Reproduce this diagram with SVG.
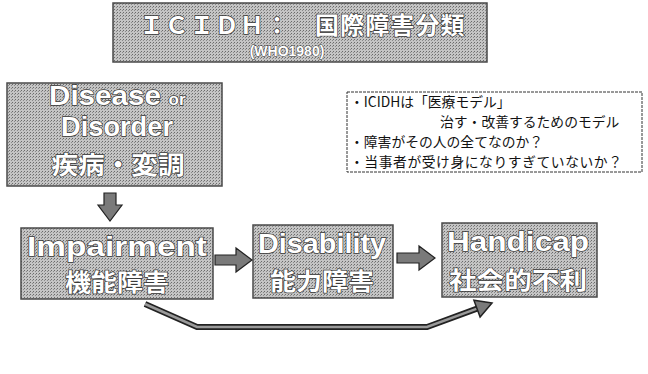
<svg xmlns="http://www.w3.org/2000/svg" width="648" height="374" viewBox="0 0 648 374">
<style>
.box{stroke:#4a4a4a;stroke-width:1.5;fill:url(#ht)}
.lbl{font-family:"Liberation Sans","Noto Sans CJK JP",sans-serif;font-weight:bold;fill:#fff;stroke:#3a3a3a;stroke-width:1.4;paint-order:stroke;text-anchor:middle}
.jp{font-family:"Noto Sans CJK JP",sans-serif;font-weight:bold;fill:#fff;stroke:#3a3a3a;stroke-width:1.4;paint-order:stroke;text-anchor:middle}
.note{font-family:"Noto Sans CJK JP",sans-serif;font-size:13.8px;fill:#111}
.arr{fill:#7a7a7a;stroke:#222;stroke-width:1.2}
</style>
<defs>
<pattern id="ht" width="3" height="3" patternUnits="userSpaceOnUse">
<rect width="3" height="3" fill="#c4c4c4"/>
<rect width="1" height="1" fill="#6a6a6a"/>
<rect x="2" y="1" width="1" height="1" fill="#8a8a8a"/>
</pattern>
</defs>
<rect width="648" height="374" fill="#fff"/>

<g id="title">
<rect class="box" x="113" y="3" width="374" height="59"/>
<text class="jp" x="302" y="34" font-size="24" textLength="325" lengthAdjust="spacing">ＩＣＩＤＨ：　国際障害分類</text>
<text class="lbl" x="287" y="56" font-size="14" style="stroke-width:0.9">(WHO1980)</text>
</g>

<g id="disease">
<rect class="box" x="7" y="83" width="215" height="103"/>
<text class="lbl" x="105" y="105" font-size="27" textLength="112" lengthAdjust="spacingAndGlyphs">Disease</text>
<text class="lbl" x="177" y="105" font-size="17">or</text>
<text class="lbl" x="117" y="136" font-size="27" textLength="112" lengthAdjust="spacingAndGlyphs">Disorder</text>
<text class="jp" x="118" y="174" font-size="25" textLength="133" lengthAdjust="spacingAndGlyphs">疾病・変調</text>
</g>

<g id="impairment">
<rect class="box" x="21" y="228" width="192" height="71"/>
<text class="lbl" x="117" y="256" font-size="28" textLength="180" lengthAdjust="spacingAndGlyphs">Impairment</text>
<text class="jp" x="117" y="291" font-size="24" textLength="104" lengthAdjust="spacingAndGlyphs">機能障害</text>
</g>

<g id="disability">
<rect class="box" x="253" y="225" width="140" height="73"/>
<text class="lbl" x="322" y="253" font-size="28" textLength="128" lengthAdjust="spacingAndGlyphs">Disability</text>
<text class="jp" x="322" y="290" font-size="24" textLength="104" lengthAdjust="spacingAndGlyphs">能力障害</text>
</g>

<g id="handicap">
<rect class="box" x="442" y="223" width="155" height="74"/>
<text class="lbl" x="518" y="251" font-size="28" textLength="142" lengthAdjust="spacingAndGlyphs">Handicap</text>
<text class="jp" x="518" y="289" font-size="24" textLength="138" lengthAdjust="spacingAndGlyphs">社会的不利</text>
</g>

<g id="note">
<rect x="347" y="92" width="295" height="80" fill="#fff" stroke="#333" stroke-width="1" stroke-dasharray="3,1"/>
<text class="note" x="350" y="107">・ICIDHは「医療モデル」</text>
<text class="note" x="440" y="127">治す・改善するためのモデル</text>
<text class="note" x="350" y="147">・障害がその人の全てなのか？</text>
<text class="note" x="350" y="167" textLength="272" lengthAdjust="spacing">・当事者が受け身になりすぎていないか？</text>
</g>

<g id="connectors">
<path class="arr" d="M104,193 H116 V205 H122 L110,221 L98,205 H104 Z"/>
<path class="arr" d="M215,255 H236 V248 L252,260 L236,272 V265 H215 Z"/>
<path class="arr" d="M397,253 H419 V246 L435,258 L419,270 V263 H397 Z"/>
<path d="M145,304 L197,327 H427 L477,308.6" fill="none" stroke="#222" stroke-width="6" stroke-linejoin="miter"/>
<path d="M145,304 L197,327 H427 L477,308.6" fill="none" stroke="#9a9a9a" stroke-width="2.5"/>
<path class="arr" d="M492,303 L473.9,300.2 L480.1,317 Z" style="stroke-width:1.5"/>
</g>
</svg>
